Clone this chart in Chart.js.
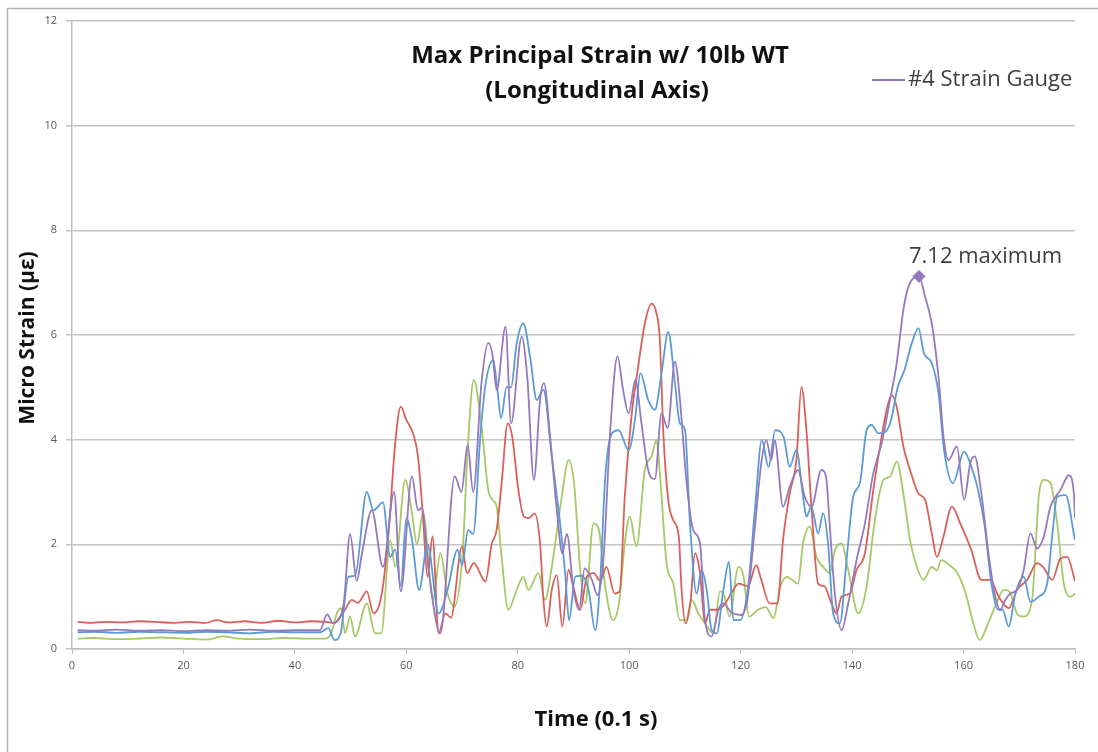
<!DOCTYPE html>
<html lang="en">
<head>
    <meta charset="UTF-8">
    <title>Max Principal Strain w/ 10lb WT</title>
    <script src="https://cdn.jsdelivr.net/npm/chart.js"></script>
    <style>
        html, body { margin: 0; padding: 0; background: #fff; }
        #wrap { width: 1098px; height: 752px; }
    </style>
</head>
<body>
    <div id="wrap"><canvas id="strainChart"></canvas></div>

    <script>
        // Strain gauge readings as [time, micro strain]
        const gauge4 = [[1,0.36],[4,0.35],[8,0.37],[12,0.35],[16,0.36],[20,0.34],[24,0.36],[28,0.35],[32,0.37],[36,0.35],[40,0.36],[44.5,0.36],[45.8,0.66],[46.8,0.5],[47.8,0.55],[48.8,0.9],[49.9,2.2],[51.1,1.3],[52,1.8],[53.8,2.65],[55.8,1.57],[57.8,3.0],[59,1.1],[61,3.3],[62.1,2.65],[62.8,2.7],[64,1.5],[66.1,0.3],[68.7,3.3],[69.9,3.0],[71,3.9],[72,3.0],[73.5,5.1],[74.7,5.85],[75.5,5.6],[76.2,4.95],[77.8,6.16],[78.8,4.31],[80.7,5.97],[81.7,5.2],[82.9,3.23],[84,4.76],[84.7,5.08],[85.8,4.06],[87,2.66],[88,1.83],[88.8,2.2],[90,1.13],[91,0.75],[92,1.54],[93.3,1.32],[94.3,1.03],[95.4,1.76],[96.6,4.18],[97.9,5.59],[98.9,4.95],[99.9,4.5],[101.1,5.14],[102.2,4.31],[103.4,3.42],[104.6,3.25],[105.8,4.5],[106.9,4.22],[108.2,5.49],[109.1,4.76],[110.3,3.17],[111.5,2.27],[112.7,2.02],[113.6,0.55],[114.8,0.24],[116,0.75],[116.9,0.87],[118.3,0.7],[120.1,0.65],[121.2,0.94],[122.5,2.27],[123.7,3.55],[124.6,3.99],[125.5,3.61],[126.1,3.99],[127.6,2.72],[128.8,3.1],[130.3,3.42],[131.5,2.91],[132.7,2.72],[134.5,3.42],[135.3,3.3],[136,2.34],[136.9,1.06],[138.1,0.36],[139.3,0.87],[140.8,1.7],[142.3,2.4],[143.8,3.36],[145.3,3.93],[146.8,4.76],[148,5.46],[149.2,6.48],[150.1,6.92],[152,7.12],[153.1,6.73],[154.3,6.22],[155.5,5.2],[156.4,4.06],[157.3,3.61],[158.8,3.87],[160.1,2.85],[161.2,3.55],[162,3.68],[163.2,2.97],[164.4,1.89],[165.5,1.1],[166.6,0.75],[167.5,0.94],[168.4,1.06],[169.6,1.13],[170.8,1.51],[172,2.21],[173.2,1.92],[174.4,2.15],[175.6,2.72],[177.4,3.04],[178.9,3.32],[179.8,2.97],[180,2.5]];

        const gaugeBlue = [[1,0.32],[4,0.33],[8,0.31],[12,0.33],[16,0.32],[20,0.31],[24,0.33],[28,0.32],[32,0.3],[36,0.33],[40,0.32],[44.5,0.32],[46,0.4],[47.1,0.17],[48.2,0.3],[49.6,1.38],[50.8,1.4],[52.9,3.0],[54.1,2.65],[55.8,2.8],[57.1,1.76],[58,1.9],[59,1.2],[60,2.5],[61,2.1],[62.3,1.13],[63.8,2.0],[65.8,0.68],[67.4,1.13],[69.2,1.9],[70,1.6],[71.1,2.27],[72,2.2],[73.3,4.1],[74.2,5.05],[75.6,5.52],[76.3,5.0],[77,4.41],[78,5.01],[78.8,5.0],[79.8,5.84],[81,6.22],[82.2,5.59],[83.4,4.76],[84.6,4.95],[86.1,3.68],[87.6,2.4],[88.5,1.45],[89.2,0.55],[90.3,1.38],[91.5,1.4],[92.7,1.13],[93.9,0.36],[94.8,1.32],[95.7,3.29],[96.9,4.12],[98.1,4.18],[99.9,3.8],[101.1,4.44],[102,5.27],[103.4,4.76],[104.6,4.57],[105.8,5.27],[107,6.06],[108.2,5.08],[109.1,4.31],[110,4.2],[110.9,2.4],[112.1,1.06],[113,1.51],[113.9,1.13],[114.8,0.36],[115.7,0.3],[116.9,1.13],[117.9,1.67],[118.7,0.55],[119.9,0.55],[121.4,1.25],[122.6,2.72],[123.8,3.99],[125,3.48],[126.2,4.18],[127.7,4.06],[128.8,3.48],[130,3.8],[131.2,2.91],[131.8,2.53],[132.7,2.72],[133.9,2.21],[134.8,2.59],[135.7,2.0],[136.6,0.68],[137.8,0.49],[139,1.7],[140.2,2.91],[141.4,3.17],[142.6,4.18],[143.5,4.28],[144.7,4.12],[146,4.15],[147,4.38],[148.2,5.01],[149.4,5.33],[150.7,5.84],[151.9,6.13],[152.9,5.65],[154.3,5.46],[155.5,4.89],[156.5,3.8],[158.1,3.17],[160.1,3.77],[161.4,3.48],[162.6,3.04],[163.8,2.34],[165,1.25],[166.2,0.75],[167,0.75],[168.1,0.43],[169.3,1.06],[170.8,1.38],[172,0.9],[173.5,1.0],[175,1.25],[175.9,2.15],[176.8,2.91],[178.3,2.94],[180,2.08]];

        const gaugeRed = [[1,0.52],[3,0.5],[6,0.52],[9,0.51],[12,0.53],[15,0.52],[18,0.5],[21,0.52],[24,0.5],[26,0.55],[28,0.51],[31,0.53],[34,0.5],[37,0.54],[40,0.51],[43,0.53],[45.5,0.52],[47.2,0.5],[48,0.6],[49,0.75],[50.2,0.94],[51.3,0.88],[52.9,1.1],[54.1,0.68],[55.6,1.06],[56.8,2.2],[58,3.93],[59,4.63],[60,4.38],[61.2,4.12],[62.1,3.67],[63,2.5],[63.8,1.38],[64.7,2.15],[65.8,0.3],[67,0.68],[68,0.6],[70,1.96],[70.9,1.45],[72.1,1.64],[74.2,1.29],[75.3,2.0],[76.2,2.27],[77.1,3.17],[78.2,4.31],[79,4.06],[80.1,3.04],[81.1,2.53],[82,2.5],[83,2.59],[84,2.02],[84.6,0.94],[85.2,0.43],[86.1,1.13],[87,1.41],[88,0.43],[89.1,1.51],[90.1,1.13],[91.2,0.75],[92.4,1.38],[93.6,1.45],[94.8,1.3],[95.9,1.57],[97.4,1.06],[98.3,1.1],[99.2,2.91],[100.4,4.44],[101.6,5.39],[102.8,6.22],[104,6.6],[104.8,6.45],[105.5,5.9],[106.1,4.18],[107,2.85],[107.9,2.46],[108.9,2.15],[109.4,1.13],[110.1,0.49],[111,0.9],[111.8,1.83],[112.7,1.45],[113.6,0.49],[114.5,0.75],[116,0.75],[117.2,0.87],[118.7,1.13],[119.6,1.25],[121.3,1.2],[122.8,1.6],[123.7,1.32],[125.2,0.87],[126.6,0.87],[127.6,2.08],[128.8,2.97],[130,3.61],[130.9,5.01],[131.8,4.18],[132.7,2.72],[133.9,1.25],[135,1.2],[136.3,0.87],[137.2,0.68],[138.1,1.0],[139.6,1.06],[140.8,1.51],[142.3,1.83],[143.8,3.04],[145.3,4.06],[146.2,4.57],[147.1,4.85],[148,4.63],[149.2,3.87],[150.4,3.42],[151.9,2.97],[153.1,2.85],[154.3,2.21],[155.2,1.76],[156.4,2.15],[157.9,2.72],[159.4,2.4],[161.4,1.89],[163.2,1.32],[164.8,1.32],[166.3,1.0],[168.1,0.78],[169.6,1.13],[171.4,1.32],[173.2,1.64],[174.4,1.55],[175.9,1.32],[177.4,1.73],[178.6,1.76],[180,1.3]];

        const gaugeGreen = [[1,0.2],[4,0.21],[8,0.19],[12,0.2],[16,0.22],[20,0.2],[24,0.18],[27,0.24],[30,0.2],[34,0.19],[38,0.21],[42,0.2],[45.5,0.2],[46.5,0.3],[47.6,0.7],[48.3,0.78],[49,0.3],[49.9,0.62],[50.8,0.24],[52.9,0.87],[54.4,0.3],[55.5,0.3],[57.1,2.08],[58,1.57],[59.8,3.23],[61,2.6],[61.9,2.0],[63,2.6],[64.8,0.94],[66.1,1.83],[67.4,1.06],[68.6,0.81],[70.1,1.83],[71,3.8],[72.1,5.14],[73.5,4.25],[74.7,3.04],[75.5,2.85],[76.2,2.72],[77.1,1.76],[78.3,0.75],[79.8,1.13],[81,1.38],[81.9,1.13],[83.7,1.45],[84.9,0.94],[86.1,1.57],[87.9,2.91],[89.1,3.61],[90.1,3.17],[91.2,1.51],[92.1,0.87],[93.6,2.4],[94.5,2.3],[95.7,1.19],[97.1,0.55],[98.2,0.9],[99.2,2.02],[100.1,2.53],[101.3,1.96],[102.8,3.42],[104,3.68],[104.9,3.99],[105.5,3.36],[106.7,1.64],[107.9,1.25],[109.1,0.55],[110.2,0.55],[111.2,0.94],[112.4,0.68],[113.6,0.49],[115.1,0.3],[116.3,1.1],[117.1,1.0],[118,0.62],[119.6,1.57],[120.5,1.4],[121.5,0.62],[123.1,0.75],[124.5,0.8],[125.9,0.59],[127.1,1.19],[128.3,1.38],[130.3,1.25],[131.2,2.02],[132.4,2.34],[133.6,1.76],[134.8,1.57],[136,1.45],[136.9,1.89],[138.1,2.02],[139.3,1.51],[141.1,0.68],[142.6,1.19],[144,2.4],[145.6,3.23],[146.8,3.29],[148,3.58],[149.2,2.97],[150.4,2.08],[151.6,1.57],[152.8,1.32],[154.3,1.57],[155.2,1.5],[156,1.7],[157.5,1.6],[158.9,1.45],[160.4,1.06],[161.6,0.55],[162.9,0.17],[164.4,0.49],[165.9,0.87],[167.2,1.13],[168.2,1.1],[169.6,0.68],[170.8,0.62],[172.3,0.94],[173.5,2.91],[174.4,3.23],[175.6,3.17],[176.8,2.4],[178,1.25],[179.2,1.0],[180,1.06]];

        const maxPoint = [152, 7.12];
        const maxLabel = '7.12 maximum';
        const titleLines = ['Max Principal Strain w/ 10lb WT', '(Longitudinal Axis)'];
        const legendLabel = '#4 Strain Gauge';
        const xTitle = 'Time (0.1 s)';
        const yTitle = 'Micro Strain (\u00b5\u03b5)';

        const PURPLE = '#9479bd';
        const FONT = '"Open Sans", sans-serif';
        const toXY = arr => arr.map(p => ({ x: p[0], y: p[1] }));

        function lineSet(label, data, color) {
            return {
                label: label,
                data: toXY(data),
                borderColor: color,
                backgroundColor: color,
                borderWidth: 1.8,
                pointRadius: 0,
                cubicInterpolationMode: 'monotone',
                fill: false
            };
        }

        // title, legend, axis titles, max label and frame are drawn by hand
        const decorations = {
            id: 'decorations',
            beforeDraw(chart) {
                const ctx = chart.ctx;
                ctx.save();
                ctx.fillStyle = '#fff';
                ctx.fillRect(0, 0, chart.width, chart.height);
                ctx.strokeStyle = '#b5b5b5';
                ctx.lineWidth = 1.5;
                ctx.strokeRect(7.5, 8.5, 1100, 760);
                ctx.restore();
            },
            afterDatasetsDraw(chart) {
                const ctx = chart.ctx;
                const xs = chart.scales.x, ys = chart.scales.y;
                ctx.save();
                ctx.fillStyle = '#111';
                ctx.textAlign = 'center';
                ctx.textBaseline = 'middle';
                // chart title
                ctx.font = 'bold 24px ' + FONT;
                ctx.fillText(titleLines[0], 600, 56);
                ctx.fillText(titleLines[1], 597, 91);
                // axis titles
                ctx.font = 'bold 22px ' + FONT;
                ctx.fillText(xTitle, 596, 720);
                ctx.save();
                ctx.translate(28, 338);
                ctx.rotate(-Math.PI / 2);
                ctx.font = 'bold 21px ' + FONT;
                ctx.fillText(yTitle, 0, 0);
                ctx.restore();
                // legend
                ctx.strokeStyle = PURPLE;
                ctx.lineWidth = 1.8;
                ctx.beginPath();
                ctx.moveTo(872, 80);
                ctx.lineTo(905, 80);
                ctx.stroke();
                ctx.fillStyle = '#404040';
                ctx.textAlign = 'left';
                ctx.font = '22px ' + FONT;
                ctx.fillText(legendLabel, 908, 80);
                // max label
                const px = xs.getPixelForValue(maxPoint[0]);
                const py = ys.getPixelForValue(maxPoint[1]);
                ctx.fillText(maxLabel, px - 10, py - 20);
                ctx.restore();
            }
        };

        const ctx = document.getElementById('strainChart').getContext('2d');
        new Chart(ctx, {
            type: 'line',
            data: {
                datasets: [
                    {
                        label: 'max',
                        data: [{ x: maxPoint[0], y: maxPoint[1] }],
                        showLine: false,
                        pointStyle: 'rectRot',
                        pointRadius: 6,
                        backgroundColor: PURPLE,
                        borderColor: PURPLE
                    },
                    lineSet(legendLabel, gauge4, PURPLE),
                    lineSet('#1', gaugeBlue, '#5b9bd5'),
                    lineSet('#2', gaugeRed, '#d9605a'),
                    lineSet('#3', gaugeGreen, '#a6c866')
                ]
            },
            options: {
                responsive: true,
                maintainAspectRatio: false,
                animation: false,
                layout: { padding: { top: 21, right: 23, left: 0, bottom: 0 } },
                plugins: {
                    legend: { display: false },
                    tooltip: { enabled: false }
                },
                scales: {
                    x: {
                        type: 'linear',
                        min: 0,
                        max: 180,
                        afterFit: s => { s.height = 103; },
                        ticks: {
                            stepSize: 20,
                            color: '#595959',
                            padding: 5,
                            maxRotation: 0,
                            font: { family: FONT, size: 11 }
                        },
                        grid: { drawOnChartArea: false, color: '#bfbfbf', tickLength: 5 },
                        border: { color: '#bfbfbf', width: 1.5 }
                    },
                    y: {
                        min: 0,
                        max: 12,
                        afterFit: s => { s.width = 72; },
                        ticks: {
                            stepSize: 2,
                            color: '#595959',
                            padding: 9,
                            font: { family: FONT, size: 11 }
                        },
                        grid: { color: '#c4c4c4', lineWidth: 1.5, tickLength: 6 },
                        border: { color: '#bfbfbf', width: 1.5 }
                    }
                }
            },
            plugins: [decorations]
        });
    </script>
</body>
</html>
